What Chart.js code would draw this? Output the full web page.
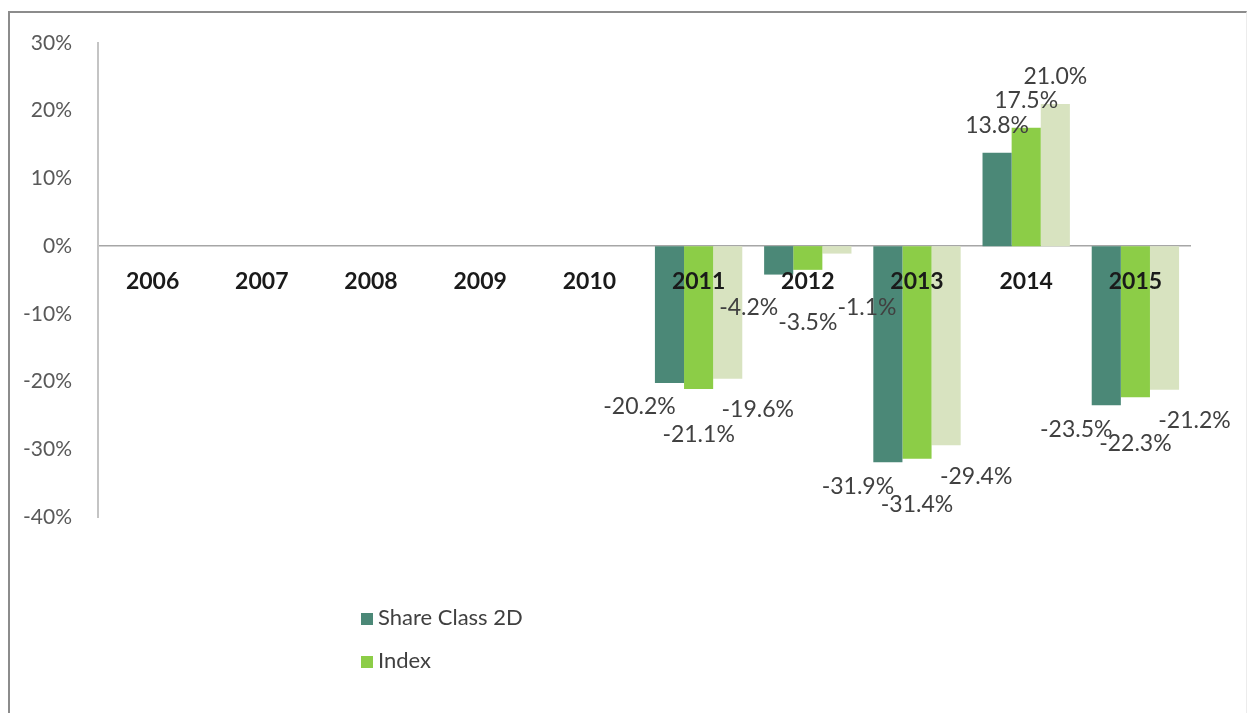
<!DOCTYPE html>
<html>
<head>
<meta charset="utf-8">
<script src="https://cdn.jsdelivr.net/npm/chart.js@4.4.1/dist/chart.umd.min.js"></script>
<style>
    html, body { margin: 0; padding: 0; background: #fff; }
    #wrap { position: relative; width: 1253px; height: 713px; overflow: hidden; }
    #frame {
        position: absolute; left: 8px; top: 11px; right: 6px; bottom: -4px;
        border-left: 2px solid #8c8c8c; border-top: 2px solid #8c8c8c;
        border-right: 1px solid #ececec;
    }
    #chart { position: absolute; left: 0; top: 0; }
    #legend {
        position: absolute; left: 361px; top: 600px;
        font-family: Lato, "Open Sans", sans-serif; font-size: 22px; color: #404040;
    }
    #legend div { height: 43px; line-height: 34px; }
    #legend span.box { display: inline-block; width: 12px; height: 12px; margin-right: 5px; vertical-align: 0px; }
</style>
</head>
<body>
<div id="wrap">
    <div id="frame"></div>
    <canvas id="chart" width="1253" height="713"></canvas>
    <div id="legend"></div>
</div>
<script>
// ======================
// DATA
// ======================
const years = ["2006", "2007", "2008", "2009", "2010", "2011", "2012", "2013", "2014", "2015"];
const shareClass2D = [null, null, null, null, null, -20.2, -4.2, -31.9, 13.8, -23.5];
const indexReturns = [null, null, null, null, null, -21.1, -3.5, -31.4, 17.5, -22.3];
const thirdSeries = [null, null, null, null, null, -19.6, -1.1, -29.4, 21.0, -21.2];

const FONT = "Lato, 'Open Sans', sans-serif";

// ======================
// VALUE LABELS (Excel-like staggered placement)
// ======================
const valueLabels = {
    id: "valueLabels",
    afterDatasetsDraw(chart) {
        const ctx = chart.ctx;
        const zero = chart.scales.y.getPixelForValue(0);
        ctx.save();
        ctx.font = "23px " + FONT;
        ctx.fillStyle = "#404040";
        ctx.textAlign = "center";
        ctx.textBaseline = "middle";
        chart.data.datasets.forEach((ds, i) => {
            const meta = chart.getDatasetMeta(i);
            const off = ds.labelOffset;
            meta.data.forEach((bar, j) => {
                const v = ds.data[j];
                if (v === null || v === undefined) return;
                const txt = v.toFixed(1) + "%";
                if (v >= 0) {
                    ctx.fillText(txt, bar.x, bar.y - 27);
                } else {
                    // keep clear of the category labels under the zero line
                    const y = Math.max(bar.y + off.dy, zero + off.minDrop);
                    ctx.fillText(txt, bar.x + off.dx, y);
                }
            });
        });
        ctx.restore();
    }
};

const chart = new Chart(document.getElementById("chart"), {
    type: "bar",
    data: {
        labels: years,
        datasets: [
            {
                label: "Share Class 2D",
                data: shareClass2D,
                backgroundColor: "#4b8877",
                labelOffset: { dx: -30, dy: 24, minDrop: 61 }
            },
            {
                label: "Index",
                data: indexReturns,
                backgroundColor: "#8ccd47",
                labelOffset: { dx: 0, dy: 46, minDrop: 76 }
            },
            {
                label: "",
                data: thirdSeries,
                backgroundColor: "#d8e3c0",
                labelOffset: { dx: 30, dy: 31, minDrop: 61 }
            }
        ]
    },
    options: {
        responsive: false,
        animation: false,
        categoryPercentage: 0.8,
        barPercentage: 1.0,
        layout: { padding: { left: 0, top: 43, right: 63, bottom: 196 } },
        plugins: {
            legend: { display: false },
            tooltip: { enabled: false }
        },
        scales: {
            x: {
                position: { y: 0 },
                z: 1,
                grid: { display: false, drawTicks: false },
                border: { display: true, color: "#a6a6a6", width: 1.5 },
                ticks: {
                    z: 2,
                    padding: 22,
                    color: "#1a1a1a",
                    font: { family: FONT, size: 23, weight: "bold" },
                    maxRotation: 0
                }
            },
            y: {
                min: -40,
                max: 30,
                afterFit(scale) { scale.width = 98; },
                grid: { display: false, drawTicks: false },
                border: { display: true, color: "#c4c4c4", width: 2 },
                ticks: {
                    stepSize: 10,
                    padding: 26,
                    color: "#595959",
                    font: { family: FONT, size: 21 },
                    callback: v => v + "%"
                }
            }
        }
    },
    plugins: [valueLabels]
});

// ======================
// HTML LEGEND (two visible series)
// ======================
const legendEl = document.getElementById("legend");
chart.data.datasets.forEach(ds => {
    if (!ds.label) return;
    const row = document.createElement("div");
    row.innerHTML = '<span class="box" style="background:' + ds.backgroundColor + '"></span>' + ds.label;
    legendEl.appendChild(row);
});
</script>
</body>
</html>
